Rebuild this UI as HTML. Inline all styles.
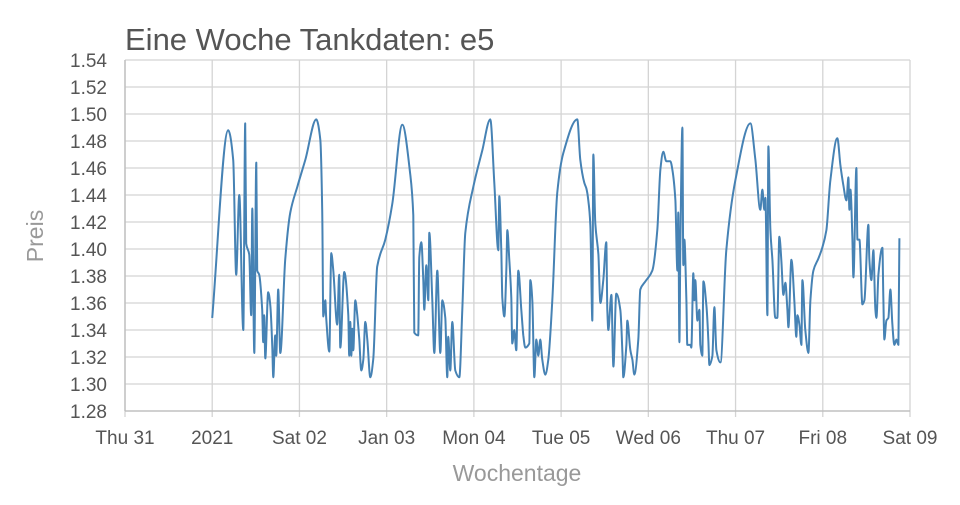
<!DOCTYPE html>
<html><head><meta charset="utf-8"><style>
body{margin:0;background:#fff;}
svg text{font-family:"Liberation Sans",sans-serif;}
</style></head><body>
<svg id="chart" width="960" height="500" viewBox="0 0 960 500" xmlns="http://www.w3.org/2000/svg">
<text x="125" y="50" font-size="31" fill="#555">Eine Woche Tankdaten: e5</text>
<text transform="translate(43,236) rotate(-90)" text-anchor="middle" font-size="23" fill="#999">Preis</text>
<text x="517" y="481" text-anchor="middle" font-size="23" fill="#999">Wochentage</text>
<g id="grid"></g><g id="ticks"></g><g id="series"></g>
</svg>
<script>
const xTickLabels=["Thu 31","2021","Sat 02","Jan 03","Mon 04","Tue 05","Wed 06","Thu 07","Fri 08","Sat 09"];
const xTickDays=[-1,0,1,2,3,4,5,6,7,8];
const yTicks=[1.28,1.30,1.32,1.34,1.36,1.38,1.40,1.42,1.44,1.46,1.48,1.50,1.52,1.54];
const days=[0,.183,.241,.275,.310,.356,.378,.390,.424,.447,.459,.482,.505,.516,.539,.573,.585,.596,.608,.642,.665,.688,.700,.722,.734,.757,.780,.837,.895,.975,1.067,1.193,1.239,1.261,1.273,1.296,1.307,1.342,1.365,1.388,1.433,1.456,1.468,1.514,1.560,1.571,1.583,1.594,1.606,1.617,1.640,1.663,1.686,1.709,1.732,1.755,1.778,1.812,1.846,1.892,1.984,2.064,2.179,2.271,2.305,2.317,2.362,2.374,2.397,2.420,2.431,2.454,2.477,2.489,2.523,2.546,2.580,2.615,2.638,2.672,2.695,2.706,2.729,2.752,2.787,2.833,2.867,2.901,2.993,3.096,3.188,3.234,3.280,3.291,3.314,3.326,3.349,3.372,3.383,3.406,3.429,3.440,3.463,3.486,3.509,3.544,3.567,3.589,3.635,3.647,3.670,3.693,3.716,3.739,3.761,3.784,3.819,3.853,3.899,3.956,4.025,4.186,4.220,4.266,4.289,4.312,4.335,4.346,4.358,4.369,4.392,4.427,4.450,4.484,4.518,4.530,4.541,4.576,4.599,4.633,4.679,4.702,4.713,4.748,4.759,4.794,4.817,4.839,4.885,4.908,4.966,5.046,5.103,5.138,5.172,5.206,5.252,5.275,5.310,5.333,5.344,5.356,5.367,5.390,5.401,5.413,5.436,5.447,5.482,5.493,5.516,5.528,5.539,5.562,5.585,5.596,5.619,5.631,5.665,5.688,5.700,5.734,5.757,5.780,5.826,5.894,5.998,6.170,6.227,6.284,6.307,6.330,6.342,6.365,6.376,6.399,6.422,6.456,6.479,6.502,6.525,6.548,6.571,6.594,6.606,6.640,6.674,6.697,6.709,6.732,6.755,6.766,6.800,6.835,6.858,6.892,6.950,6.995,7.041,7.087,7.167,7.202,7.236,7.271,7.294,7.305,7.317,7.339,7.351,7.385,7.397,7.420,7.454,7.477,7.523,7.534,7.557,7.580,7.603,7.615,7.638,7.683,7.695,7.706,7.729,7.752,7.775,7.798,7.821,7.844,7.867,7.878];
const prices=[1.349,1.488,1.466,1.381,1.440,1.340,1.493,1.404,1.396,1.351,1.430,1.323,1.464,1.384,1.381,1.355,1.331,1.351,1.319,1.368,1.359,1.329,1.305,1.336,1.321,1.370,1.323,1.392,1.427,1.446,1.466,1.496,1.481,1.429,1.350,1.362,1.349,1.324,1.397,1.384,1.344,1.381,1.327,1.383,1.351,1.321,1.346,1.321,1.341,1.325,1.362,1.351,1.333,1.310,1.318,1.346,1.333,1.305,1.318,1.387,1.407,1.433,1.492,1.455,1.425,1.338,1.336,1.394,1.405,1.377,1.355,1.388,1.362,1.412,1.362,1.323,1.384,1.323,1.362,1.349,1.305,1.335,1.310,1.346,1.310,1.305,1.355,1.412,1.446,1.473,1.496,1.449,1.399,1.439,1.399,1.364,1.350,1.384,1.414,1.392,1.364,1.330,1.340,1.325,1.384,1.355,1.336,1.327,1.330,1.377,1.362,1.305,1.333,1.321,1.333,1.318,1.307,1.318,1.362,1.442,1.471,1.496,1.466,1.449,1.445,1.436,1.418,1.382,1.347,1.470,1.419,1.396,1.360,1.377,1.405,1.355,1.340,1.366,1.313,1.367,1.355,1.325,1.305,1.329,1.347,1.325,1.318,1.307,1.333,1.370,1.376,1.384,1.414,1.459,1.472,1.465,1.465,1.459,1.436,1.384,1.427,1.331,1.399,1.490,1.388,1.407,1.362,1.329,1.329,1.327,1.382,1.362,1.377,1.347,1.355,1.329,1.321,1.376,1.359,1.333,1.314,1.321,1.357,1.325,1.316,1.399,1.451,1.493,1.466,1.429,1.444,1.429,1.438,1.351,1.476,1.414,1.392,1.349,1.349,1.409,1.392,1.366,1.375,1.355,1.342,1.392,1.362,1.335,1.351,1.344,1.329,1.377,1.340,1.323,1.362,1.384,1.393,1.401,1.414,1.451,1.482,1.462,1.447,1.436,1.453,1.429,1.444,1.410,1.379,1.460,1.407,1.407,1.359,1.362,1.418,1.392,1.377,1.399,1.355,1.349,1.381,1.401,1.362,1.333,1.347,1.349,1.370,1.344,1.329,1.333,1.329,1.408];

const NS="http://www.w3.org/2000/svg";
const X0=125,X1=910,Y0=411,Y1=60,DMIN=-1,DMAX=8,PMIN=1.28,PMAX=1.54;
function xs(d){return X0+(d-DMIN)/(DMAX-DMIN)*(X1-X0);}
function ys(p){return Y0-(p-PMIN)/(PMAX-PMIN)*(Y0-Y1);}
function mk(tag,attrs,parent){const e=document.createElementNS(NS,tag);for(const k in attrs)e.setAttribute(k,attrs[k]);parent.appendChild(e);return e;}
const grid=document.getElementById('grid'),ticks=document.getElementById('ticks'),series=document.getElementById('series');
yTicks.forEach(v=>{
  const l=mk('line',{x1:X0,x2:X1,y1:ys(v),y2:ys(v),stroke:'#d4d4d4','stroke-width':1.3},grid);
  
  
  const t=mk('text',{x:107,y:ys(v)+7,'text-anchor':'end','font-size':19,fill:'#555'},ticks);
  t.textContent=v.toFixed(2);
  
  
});
xTickDays.forEach((d,i)=>{
  const l=mk('line',{x1:xs(d),x2:xs(d),y1:Y1,y2:Y0+6,stroke:'#d4d4d4','stroke-width':1.3},grid);
  
  
  const t=mk('text',{x:xs(d),y:444,'text-anchor':'middle','font-size':19,fill:'#555'},ticks);
  t.textContent=xTickLabels[i];
  
  
});
const ax=mk('line',{x1:X0,x2:X0,y1:Y1,y2:Y0,stroke:'#bbb','stroke-width':1.3},grid);


const bx=mk('line',{x1:X0,x2:X1,y1:Y0,y2:Y0,stroke:'#bbb','stroke-width':1.3},grid);


// monotone-x cubic path
const P=days.map((d,i)=>[xs(d),ys(prices[i])]);
const n=P.length,sl=[],m=[];
for(let i=0;i<n-1;i++)sl.push((P[i+1][1]-P[i][1])/(P[i+1][0]-P[i][0]||1e-6));
for(let i=0;i<n;i++){
  if(i===0)m.push(sl[0]);else if(i===n-1)m.push(sl[n-2]);
  else{const a=sl[i-1],b=sl[i];m.push(a*b<=0?0:(2*a*b)/(a+b));}
}
let dstr='M'+P[0][0].toFixed(1)+','+P[0][1].toFixed(1);
for(let i=0;i<n-1;i++){
  const h=(P[i+1][0]-P[i][0])/3;
  dstr+=' C'+(P[i][0]+h).toFixed(1)+','+(P[i][1]+m[i]*h).toFixed(1)+' '+(P[i+1][0]-h).toFixed(1)+','+(P[i+1][1]-m[i+1]*h).toFixed(1)+' '+P[i+1][0].toFixed(1)+','+P[i+1][1].toFixed(1);
}
const pl=mk('path',{d:dstr,fill:'none',stroke:'#4682b4','stroke-width':2,'stroke-linejoin':'round'},series);


</script>
</body></html>
